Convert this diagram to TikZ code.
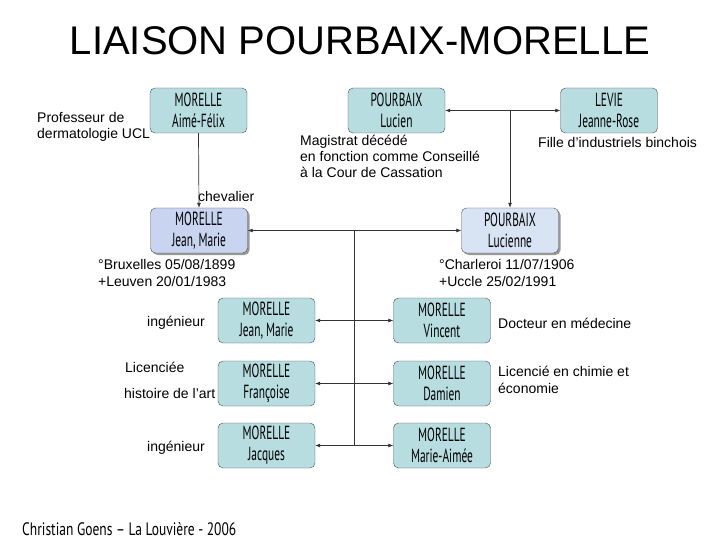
\documentclass[tikz,border=0pt]{standalone}
\usepackage{fontspec}
\setmainfont{Liberation Sans}
\newfontfamily\boxfont[FakeStretch=0.6]{PT Sans}
\newfontfamily\footfont[FakeStretch=0.75]{PT Sans}
\usetikzlibrary{arrows.meta,shadows,calc}
\definecolor{boxteal}{RGB}{183,221,224}
\definecolor{boxlav}{RGB}{200,212,240}
\definecolor{boxsky}{RGB}{216,228,243}
\tikzset{
  pers/.style={draw=black!70,fill=boxteal,rounded corners=5pt,minimum width=97pt,
    minimum height=45pt,inner sep=0pt,align=center,text=black,
    font=\boxfont\fontsize{19}{21}\selectfont},
  couple/.style={pers,drop shadow={shadow xshift=2pt,shadow yshift=-2pt,fill=black!40,opacity=1}},
  note/.style={anchor=base west,inner sep=0pt,align=left,font=\fontsize{14}{16.3}\selectfont},
  link/.style={draw=black!80,line width=0.7pt,-{Latex[length=5pt,width=4pt]}},
  link2/.style={link,{Latex[length=5pt,width=4pt]}-{Latex[length=5pt,width=4pt]}}
}
\begin{document}
\begin{tikzpicture}[x=1pt,y=-1pt]
\useasboundingbox (0,0) rectangle (720,540);
\node[anchor=base,inner sep=0pt,font=\fontsize{40}{40}\selectfont] (title) at (360,55) {LIAISON POURBAIX-MORELLE};
\node[pers] (aime) at (198.5,110.5) {MORELLE\\Aimé-Félix};
\node[pers] (lucien) at (396.5,110.5) {POURBAIX\\Lucien};
\node[pers] (levie) at (609,110.5) {LEVIE\\Jeanne-Rose};
\node[couple,fill=boxlav] (jm) at (199,230.5) {MORELLE\\Jean, Marie};
\node[couple,fill=boxsky] (lucienne) at (510,230.5) {POURBAIX\\Lucienne};
\node[note] (prof) at (37,139) {Professeur de\\dermatologie UCL};
\node[note] (magistrat) at (300,178) {Magistrat décédé\\en fonction comme Conseillé\\à la Cour de Cassation};
\node[note] (fille) at (538,148) {Fille d’industriels binchois};
\node[note] (chev) at (198,202) {chevalier};
\node[note] (jmdates) at (98,286) {°Bruxelles 05/08/1899\\+Leuven 20/01/1983};
\node[note] (ludates) at (439,286) {°Charleroi 11/07/1906\\+Uccle 25/02/1991};
\draw[link] (aime.south) -- (jm.north);
\draw[link2] (lucien.east) -- (levie.west);
\draw[link] (lucienne.north |- lucien.east) -- (lucienne.north);
\draw[link2] (jm.east) -- (lucienne.west);
\coordinate (fork) at (354,230.5);
\foreach \y/\a/\b/\n in {320.5/{Jean, Marie}/Vincent/1,383.5/Françoise/Damien/2,445.5/Jacques/Marie-Aimée/3}{
  \node[pers] (c\n) at (266.5,\y) {MORELLE\\\a};
  \node[pers] (d\n) at (442,\y) {MORELLE\\\b};
  \draw[link2] (c\n.east) -- (d\n.west);
}
\draw[draw=black!80,line width=0.7pt] (fork) -- (fork |- c3.east);
\node[note] (ing1) at (147,326) {ingénieur};
\node[note] (lic) at (125,372) {Licenciée};
\node[note] (hist) at (124,398) {histoire de l’art};
\node[note] (ing3) at (147,451) {ingénieur};
\node[note] (doc) at (498,328) {Docteur en médecine};
\node[note] (chim) at (498,393) {Licencié en chimie et\\économie};
\node[anchor=base west,inner sep=0pt,font=\footfont\fontsize{18}{18}\selectfont] (footer) at (22,535) {Christian Goens – La Louvière - 2006};
\end{tikzpicture}
\end{document}
